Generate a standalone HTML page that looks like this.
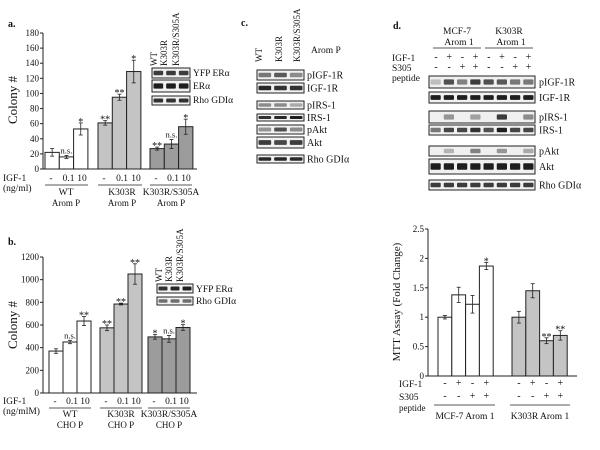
<!DOCTYPE html>
<html><head><meta charset="utf-8">
<style>
html,body{margin:0;padding:0;background:#fff;}
svg{display:block;font-family:"Liberation Serif",serif;}
svg text{font-family:"Liberation Serif",serif;fill:#111;}
</style></head>
<body>
<svg id="fig" width="600" height="450" viewBox="0 0 600 450" font-family="Liberation Serif, serif" xmlns="http://www.w3.org/2000/svg"></svg>
<script>
// Panel a data
const aGroups = ["WT","K303R","K303R/S305A"];
const aValues = [[22,16,53],[61,95,129],[27,33,56]];
const aErrors = [[5,2,8],[3,4,15],[2,6,10]];
const aSig = [["","n.s.","*"],["**","**","*"],["**","n.s.","*"]];
const aTicks = [0,20,40,60,80,100,120,140,160,180];
// Panel b data
const bGroups = ["WT","K303R","K303R/S305A"];
const bValues = [[370,450,635],[575,785,1050],[495,478,578]];
const bErrors = [[20,15,40],[25,8,90],[20,30,25]];
const bSig = [["","n.s.","**"],["**","**","**"],["*","n.s.","*"]];
const bTicks = [0,200,400,600,800,1000,1200];
// Panel e data
const eGroups = ["MCF-7 Arom 1","K303R Arom 1"];
const eValues = [[1.0,1.38,1.22,1.87],[1.0,1.45,0.6,0.69]];
const eErrors = [[0.03,0.13,0.15,0.06],[0.1,0.12,0.05,0.08]];
const eSig = [["","","","*"],["","","**","**"]];
const eTicks = [0,0.5,1,1.5,2,2.5];
const eTickLabels = ["0","0.5","1","1.5","2","2.5"];

const svg = document.getElementById('fig');
const NS = "http://www.w3.org/2000/svg";
function mk(tag, attrs, txt){
  const e = document.createElementNS(NS, tag);
  for (const k in attrs) e.setAttribute(k, attrs[k]);
  if (txt !== undefined) e.textContent = txt;
  svg.appendChild(e);
  return e;
}
function line(x1,y1,x2,y2,w){return mk('line',{x1,y1,x2,y2,stroke:'#222','stroke-width':w||1});}
function txt(x,y,s,size,anchor,extra){
  return mk('text',Object.assign({x,y,'font-size':size||9,'text-anchor':anchor||'start','font-family':'Liberation Serif, serif'},extra||{}),s);
}

function barChart(o){
  const y = v => o.y0 - (v - o.min)/(o.max - o.min)*(o.y0 - o.yTop);
  let ax = line(o.x0,o.yTop,o.x0,o.y0);
  
  
  let bx = line(o.x0,o.y0,o.xEnd,o.y0);
  
  
  o.ticks.forEach((t,i)=>{
    line(o.x0-3,y(t),o.x0,y(t));
    const tl = txt(o.x0-4,y(t)+3,o.tickLabels?o.tickLabels[i]:String(t),o.tickSize||9,'end');
    
    
  });
  o.values.forEach((grp,g)=>{
    const gx = o.groupX[g];
    grp.forEach((v,i)=>{
      const bx0 = gx + i*o.bw;
      const r = mk('rect',{x:bx0,y:y(v),width:o.bw,height:o.y0-y(v),fill:o.colors[g],stroke:'#222','stroke-width':1});
      
      
      const e = o.errors[g][i], cx = bx0+o.bw/2;
      line(cx,y(v+e),cx,y(v-e),0.8);
      line(cx-2,y(v+e),cx+2,y(v+e),0.8);
      line(cx-2,y(v-e),cx+2,y(v-e),0.8);
      const s = o.sig[g][i];
      if (s){
        const st = txt(cx,y(v+e)-2+(s==='n.s.'?0:4),s,s==='n.s.'?8.5:10,'middle');
        
        
      }
    });
  });
  return y;
}

// ---------- Panel a ----------
txt(8,27,'a.',10,'start',{'font-weight':'bold'});
barChart({name:'panel-a',x0:43,y0:169,yTop:33,xEnd:197,min:0,max:180,ticks:aTicks,
  values:aValues,errors:aErrors,sig:aSig,groupX:[45,98,150],bw:14.3,
  colors:['#ffffff','#c4c4c4','#9c9c9c']});
txt(17,100,'Colony #',13,'middle',{transform:'rotate(-90 17 100)'});
txt(3,181,'IGF-1',9.5);
txt(3,191,'(ng/ml)',9.5);
[[45,88],[98,142],[150,192]].forEach((r,g)=>{
  const cx=(r[0]+r[1])/2;
  txt(r[0]+6,181,'-',9.5,'middle');txt(cx+2,181,'0.1',9.5,'middle');txt(r[1]-6,181,'10',9.5,'middle');
  line(r[0],185,r[1],185,0.8);
});
txt(66,195,'WT',9.5,'middle');txt(122,195,'K303R',9.5,'middle');txt(171,195,'K303R/S305A',9.5,'middle');
txt(66,206,'Arom P',9,'middle');txt(122,206,'Arom P',9,'middle');txt(171,206,'Arom P',9,'middle');

function blot(x,y,w,h,n,dark,name){
  const g = mk('rect',{x,y,width:w,height:h,fill:'#f0f0f0',stroke:'#222','stroke-width':1});
  
  
  const lw = w/n;
  for(let i=0;i<n;i++){
    const d = dark[i%dark.length];
    if(d>0) mk('rect',{x:x+i*lw+1.5,y:y+h/2-h*0.22,width:lw-3,height:h*0.44,fill:'rgb('+(230-d)+','+(230-d)+','+(230-d)+')',rx:1});
  }
}
[['WT',157],['K303R',167],['K303R/S305A',179]].forEach(c=>txt(c[1],66,c[0],9,'start',{transform:'rotate(-90 '+c[1]+' 66)'}));
blot(152,68,38,10,3,[170,170,170],'blot-a-yfp');
blot(152,80,38,12,3,[200,200,200],'blot-a-era');
blot(152,96,38,9,3,[180,180,180],'blot-a-rho');
txt(193,76,'YFP ERα',9.5);txt(193,89,'ERα',9.5);txt(193,103,'Rho GDIα',9.5);

// ---------- Panel b ----------
txt(8,245,'b.',10,'start',{'font-weight':'bold'});
barChart({name:'panel-b',x0:43,y0:393,yTop:257,xEnd:197,min:0,max:1200,ticks:bTicks,
  values:bValues,errors:bErrors,sig:bSig,groupX:[49,100,148],bw:14,
  colors:['#ffffff','#c4c4c4','#9c9c9c']});
txt(17,325,'Colony #',13,'middle',{transform:'rotate(-90 17 325)'});
txt(3,404,'IGF-1',9.5);
txt(3,414,'(ng/mlM)',9.5);
[[49,91],[100,142],[148,190]].forEach((r,g)=>{
  const cx=(r[0]+r[1])/2;
  txt(r[0]+6,404,'-',9.5,'middle');txt(cx+2,404,'0.1',9.5,'middle');txt(r[1]-6,404,'10',9.5,'middle');
  line(r[0],408,r[1],408,0.8);
});
txt(70,417,'WT',9.5,'middle');txt(121,417,'K303R',9.5,'middle');txt(169,417,'K303R/S305A',9.5,'middle');
txt(70,428,'CHO P',9,'middle');txt(121,428,'CHO P',9,'middle');txt(169,428,'CHO P',9,'middle');
[['WT',162],['K303R',172],['K303R/S305A',183]].forEach(c=>txt(c[1],282,c[0],9,'start',{transform:'rotate(-90 '+c[1]+' 282)'}));
blot(157,284,36,9,3,[180,190,200],'blot-b-yfp');
blot(157,297,36,8,3,[120,120,120],'blot-b-rho');
txt(196,292,'YFP ERα',9.5);txt(196,304,'Rho GDIα',9.5);

// ---------- Panel c ----------
txt(241,26,'c.',10,'start',{'font-weight':'bold'});
[['WT',262],['K303R',282],['K303R/S305A',300]].forEach(c=>txt(c[1],62,c[0],9,'start',{transform:'rotate(-90 '+c[1]+' 62)'}));
txt(311,53,'Arom P',9.5);
const cRows=[['pIGF-1R',70,10,[110,140,90]],['IGF-1R',83,10,[190,180,180]],['pIRS-1',101,8,[90,90,60]],['IRS-1',114,7,[180,190,200]],['pAkt',125,9,[80,150,90]],['Akt',137,11,[170,160,170]],['Rho GDIα',155,8,[190,190,190]]];
cRows.forEach(r=>{blot(257,r[1],47,r[2],3,r[3],'blot-c-'+r[0]);txt(307,r[1]+r[2]/2+3.5,r[0],10);});

// ---------- Panel d ----------
txt(393,29,'d.',10,'start',{'font-weight':'bold'});
txt(457,34,'MCF-7',9.5,'middle');txt(459,45,'Arom 1',9.5,'middle');
txt(509,34,'K303R',9.5,'middle');txt(511,45,'Arom 1',9.5,'middle');
line(433,48,481,48,0.8);line(485,48,533,48,0.8);
txt(392,61,'IGF-1',9.5);txt(392,71,'S305',9.5);txt(392,81,'peptide',9.5);
const dIGF=['-','+','-','+','-','+','-','+'];
const dS305=['-','-','+','+','-','-','+','+'];
dIGF.forEach((s,i)=>{txt(436+i*13.2,60,s,10,'middle');txt(436+i*13.2,70,dS305[i],10,'middle');});
const dRows=[['pIGF-1R',76,12,[40,150,100,170,150,140,110,110]],['IGF-1R',92,11,[200,200,200,200,200,200,200,200]],['pIRS-1',111,12,[0,80,0,70,0,170,0,90]],['IRS-1',125,10,[110,160,160,180,150,200,160,160]],['pAkt',146,10,[0,50,0,100,0,80,0,60]],['Akt',159,15,[200,200,200,200,200,200,200,200]],['Rho GDIα',180,10,[170,170,170,170,170,170,170,170]]];
dRows.forEach(r=>{blot(429,r[1],106,r[2],8,r[3],'blot-d-'+r[0]);txt(539,r[1]+r[2]/2+3.5,r[0],10);});

// ---------- Panel e ----------
barChart({name:'panel-e',x0:428,y0:376,yTop:229,xEnd:577,min:0,max:2.5,ticks:eTicks,tickLabels:eTickLabels,
  values:eValues,errors:eErrors,sig:eSig,groupX:[438,512],bw:13.8,
  colors:['#ffffff','#c4c4c4'],tickSize:9});
txt(400,302,'MTT Assay (Fold Change)',11,'middle',{transform:'rotate(-90 400 302)'});
txt(399,387,'IGF-1',9.5);txt(399,400,'S305',9.5);txt(399,411,'peptide',9);
const eIGF=['-','+','-','+'];const eS=['-','-','+','+'];
[438,512].forEach(gx=>{eIGF.forEach((s,i)=>{txt(gx+6.9+i*13.8,386,s,10,'middle');txt(gx+6.9+i*13.8,399,eS[i],10,'middle');});});
line(434,405,495,405,0.8);line(510,405,570,405,0.8);
txt(465,419,'MCF-7 Arom 1',9.5,'middle');txt(540,419,'K303R Arom 1',9.5,'middle');
</script>
</body></html>
